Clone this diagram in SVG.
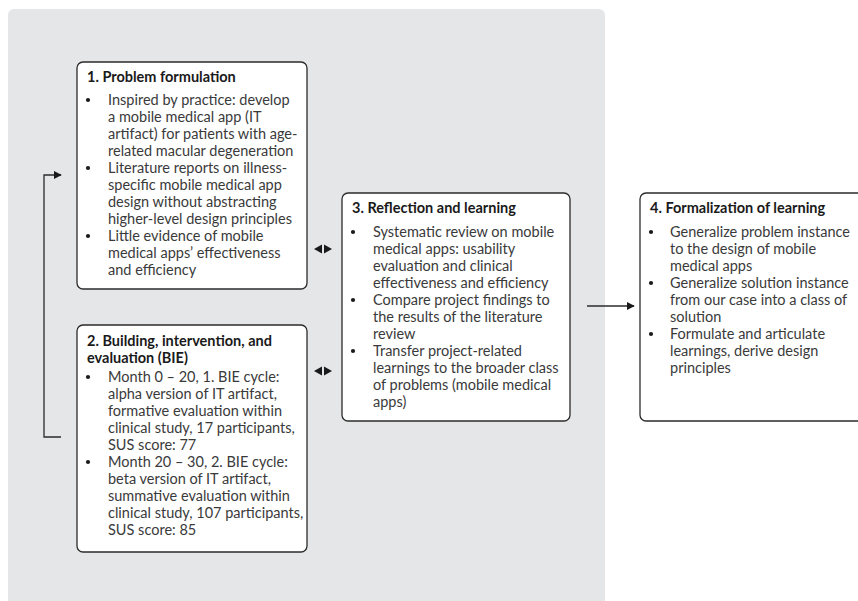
<svg xmlns="http://www.w3.org/2000/svg" width="858" height="601" viewBox="0 0 858 601">
<defs>
<style>
.bg{fill:#e5e6e7}
.box{fill:#fff;stroke:#2b2b2b;stroke-width:1.3}
.t{font-family:Lato,"Liberation Sans",sans-serif;font-size:14.5px;font-weight:bold;fill:#1a1a1a}
.b{font-family:Lato,"Liberation Sans",sans-serif;font-size:14.5px;fill:#3a3a3a}
.dot{fill:#1a1a1a}
.ln{fill:none;stroke:#2b2b2b;stroke-width:1.3}
.tri{fill:#1a1a1a}
</style>
<marker id="ah" viewBox="0 0 10 10" refX="9" refY="5" markerWidth="8" markerHeight="8" markerUnits="userSpaceOnUse" orient="auto">
<path d="M0,0 L10,5 L0,10 z" fill="#1a1a1a"/>
</marker>
</defs>
<rect class="bg" x="8" y="9" width="597" height="600" rx="6"/>

<g id="node1">
<rect class="box" x="77" y="62" width="230" height="227" rx="6"/>
<text class="t" x="87" y="82">1. Problem formulation</text>
<circle class="dot" cx="88" cy="100" r="2.1"/>
<circle class="dot" cx="88" cy="168" r="2.1"/>
<circle class="dot" cx="88" cy="236" r="2.1"/>
<text class="b" x="108" y="105">Inspired by practice: develop</text>
<text class="b" x="108" y="122">a mobile medical app (IT</text>
<text class="b" x="108" y="139">artifact) for patients with age-</text>
<text class="b" x="108" y="156">related macular degeneration</text>
<text class="b" x="108" y="173">Literature reports on illness-</text>
<text class="b" x="108" y="190">specific mobile medical app</text>
<text class="b" x="108" y="207">design without abstracting</text>
<text class="b" x="108" y="224">higher-level design principles</text>
<text class="b" x="108" y="241">Little evidence of mobile</text>
<text class="b" x="108" y="258">medical apps’ effectiveness</text>
<text class="b" x="108" y="275">and efficiency</text>
</g>

<g id="node2">
<rect class="box" x="77" y="325" width="230" height="227" rx="6"/>
<text class="t" x="87" y="346">2. Building, intervention, and</text>
<text class="t" x="87" y="363">evaluation (BIE)</text>
<circle class="dot" cx="88" cy="377" r="2.1"/>
<circle class="dot" cx="88" cy="462" r="2.1"/>
<text class="b" x="108" y="382">Month 0 – 20, 1. BIE cycle:</text>
<text class="b" x="108" y="399">alpha version of IT artifact,</text>
<text class="b" x="108" y="416">formative evaluation within</text>
<text class="b" x="108" y="433">clinical study, 17 participants,</text>
<text class="b" x="108" y="450">SUS score: 77</text>
<text class="b" x="108" y="467">Month 20 – 30, 2. BIE cycle:</text>
<text class="b" x="108" y="484">beta version of IT artifact,</text>
<text class="b" x="108" y="501">summative evaluation within</text>
<text class="b" x="108" y="518">clinical study, 107 participants,</text>
<text class="b" x="108" y="535">SUS score: 85</text>
</g>

<g id="node3">
<rect class="box" x="342" y="193" width="228" height="228" rx="6"/>
<text class="t" x="352" y="213">3. Reflection and learning</text>
<circle class="dot" cx="353" cy="232" r="2.1"/>
<circle class="dot" cx="353" cy="300" r="2.1"/>
<circle class="dot" cx="353" cy="351" r="2.1"/>
<text class="b" x="373" y="237">Systematic review on mobile</text>
<text class="b" x="373" y="254">medical apps: usability</text>
<text class="b" x="373" y="271">evaluation and clinical</text>
<text class="b" x="373" y="288">effectiveness and efficiency</text>
<text class="b" x="373" y="305">Compare project findings to</text>
<text class="b" x="373" y="322">the results of the literature</text>
<text class="b" x="373" y="339">review</text>
<text class="b" x="373" y="356">Transfer project-related</text>
<text class="b" x="373" y="373">learnings to the broader class</text>
<text class="b" x="373" y="390">of problems (mobile medical</text>
<text class="b" x="373" y="407">apps)</text>
</g>

<g id="node4">
<rect class="box" x="640" y="193" width="230" height="228" rx="6"/>
<text class="t" x="650" y="213">4. Formalization of learning</text>
<circle class="dot" cx="651" cy="232" r="2.1"/>
<circle class="dot" cx="651" cy="283" r="2.1"/>
<circle class="dot" cx="651" cy="334" r="2.1"/>
<text class="b" x="670" y="237">Generalize problem instance</text>
<text class="b" x="670" y="254">to the design of mobile</text>
<text class="b" x="670" y="271">medical apps</text>
<text class="b" x="670" y="288">Generalize solution instance</text>
<text class="b" x="670" y="305">from our case into a class of</text>
<text class="b" x="670" y="322">solution</text>
<text class="b" x="670" y="339">Formulate and articulate</text>
<text class="b" x="670" y="356">learnings, derive design</text>
<text class="b" x="670" y="373">principles</text>
</g>

<g id="connectors">
<polyline class="ln" points="61,437 44,437 44,175 61,175" marker-end="url(#ah)"/>
<line class="ln" x1="587" y1="306" x2="634" y2="306" marker-end="url(#ah)"/>
<path class="tri" d="M314,249 L322,244.5 L322,253.5 z M332,249 L324,244.5 L324,253.5 z"/>
<path class="tri" d="M314,371 L322,366.5 L322,375.5 z M332,371 L324,366.5 L324,375.5 z"/>
</g>
</svg>
